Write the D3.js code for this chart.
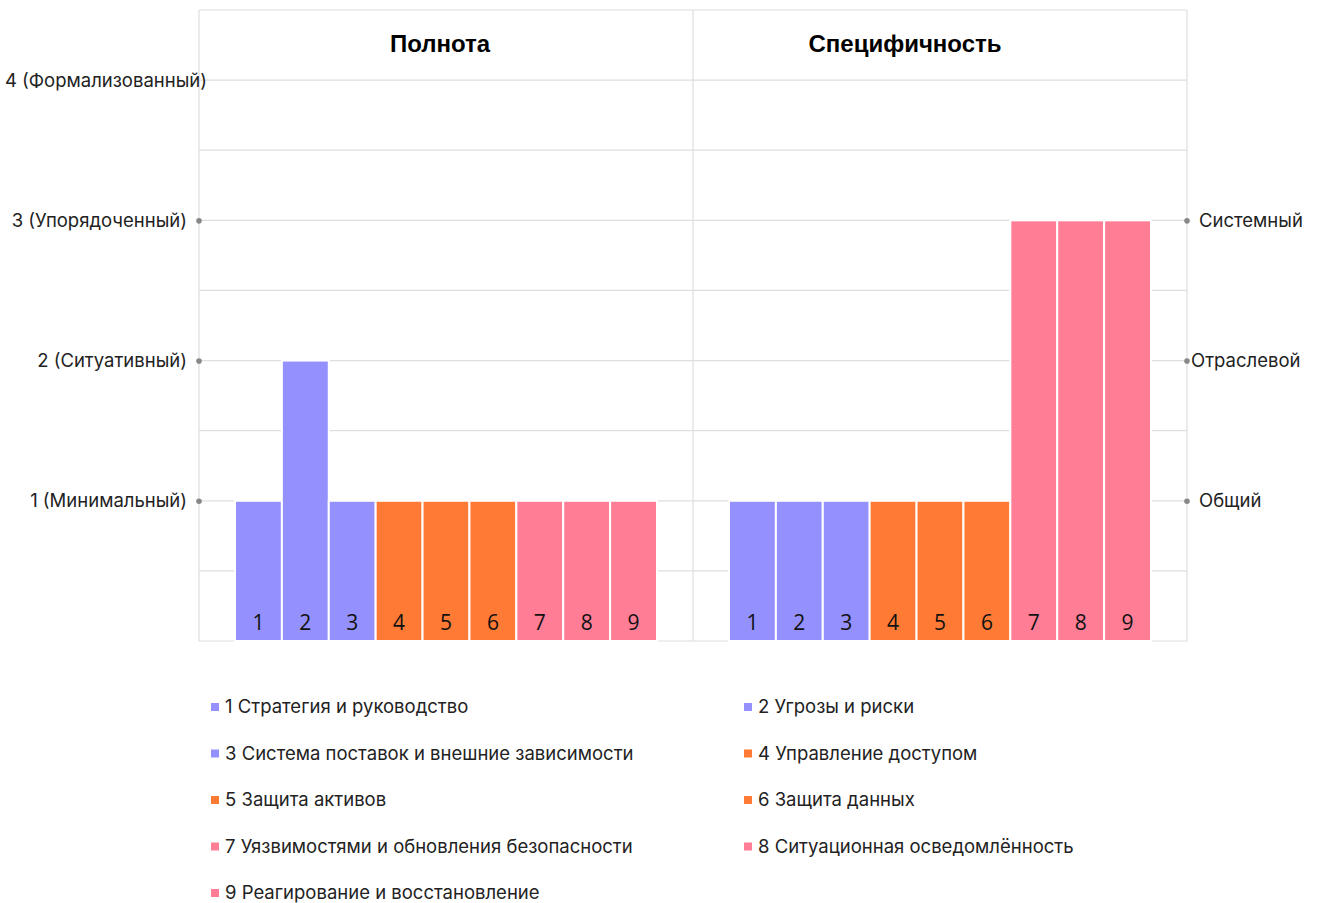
<!DOCTYPE html>
<html>
<head>
<meta charset="utf-8">
<script src="https://cdn.jsdelivr.net/npm/d3@7"></script>
<style>
  body { margin: 0; background: #fff; }
  svg { display: block; }
</style>
</head>
<body>
<svg width="1317" height="903"></svg>
<script>
// data
var panels = ["Полнота", "Специфичность"];
var ids = ["1", "2", "3", "4", "5", "6", "7", "8", "9"];
var polnota = [1, 2, 1, 1, 1, 1, 1, 1, 1];
var specific = [1, 1, 1, 1, 1, 1, 3, 3, 3];
var groups = ["a", "a", "a", "b", "b", "b", "c", "c", "c"];
var leftTicks = [1, 2, 3, 4];
var leftLabels = ["1 (Минимальный)", "2 (Ситуативный)", "3 (Упорядоченный)", "4 (Формализованный)"];
var rightTicks = [1, 2, 3];
var rightLabels = ["Общий", "Отраслевой", "Системный"];
var legendNames = [
    "1 Стратегия и руководство",
    "2 Угрозы и риски",
    "3 Система поставок и внешние зависимости",
    "4 Управление доступом",
    "5 Защита активов",
    "6 Защита данных",
    "7 Уязвимостями и обновления безопасности",
    "8 Ситуационная осведомлённость",
    "9 Реагирование и восстановление"
];

var color = d3.scaleOrdinal()
    .domain(["a", "b", "c"])
    .range(["#9491fe", "#fe7a35", "#ff7e96"]);

var svg = d3.select("svg");
var plotL = 199, plotR = 1187, plotT = 10, plotB = 641;
var font = "Inter, 'Noto Sans', sans-serif";

var y = d3.scaleLinear().domain([0, 4.5]).range([plotB, plotT]);
var px = d3.scaleBand().domain(panels).range([plotL, plotR]);

// grid
var grid = svg.append("g");
grid.selectAll("line.h")
    .data(d3.range(0, 4.51, 0.5))
    .enter()
    .append("line")
    .attr("x1", plotL).attr("x2", plotR)
    .attr("y1", d => y(d)).attr("y2", d => y(d))
    .attr("stroke", "#dedede").attr("stroke-width", 1.2);
grid.selectAll("line.v")
    .data([plotL, plotL + px.bandwidth(), plotR])
    .enter()
    .append("line")
    .attr("x1", d => d).attr("x2", d => d)
    .attr("y1", plotT).attr("y2", plotB)
    .attr("stroke", "#dedede").attr("stroke-width", 1.2);

// panel headers
var headShift = [-6, -35];
svg.selectAll("text.head")
    .data(panels)
    .enter()
    .append("text")
    .attr("x", (d, i) => px(d) + px.bandwidth() / 2 + headShift[i])
    .attr("y", 52)
    .attr("text-anchor", "middle")
    .attr("font-family", "'Liberation Sans', Arial, sans-serif")
    .attr("font-weight", "bold")
    .attr("font-size", 24)
    .attr("fill", "#000")
    .text(d => d);

// bars
[polnota, specific].forEach(function(vals, pi) {
    var x0 = px(panels[pi]);
    var x = d3.scaleBand().domain(ids)
        .range([x0 + 36, x0 + px.bandwidth() - 36]);
    var g = svg.append("g");
    g.selectAll("rect")
        .data(vals)
        .enter()
        .append("rect")
        .attr("x", (d, i) => x(ids[i]))
        .attr("y", d => y(d))
        .attr("width", x.bandwidth())
        .attr("height", d => y(0) - y(d))
        .attr("fill", (d, i) => color(groups[i]))
        .attr("stroke", "#fff")
        .attr("stroke-width", 2);
    g.selectAll("text")
        .data(ids)
        .enter()
        .append("text")
        .attr("x", d => x(d) + x.bandwidth() / 2)
        .attr("y", plotB - 11)
        .attr("text-anchor", "middle")
        .attr("font-family", "'Open Sans', sans-serif")
        .attr("font-size", 21)
        .attr("fill", "#111")
        .text(d => d);
});

// left axis
var la = svg.append("g").attr("transform", `translate(${plotL},0)`)
    .call(d3.axisLeft(y).tickValues(leftTicks)
        .tickSize(0).tickPadding(12)
        .tickFormat((d, i) => leftLabels[i]));
la.select(".domain").remove();
la.selectAll("text")
    .attr("font-family", font).attr("font-size", 18.5).attr("fill", "#222")
    .attr("dx", d => d == 4 ? 20 : 0);
la.selectAll(".tick").filter(d => d != 4)
    .append("circle").attr("r", 2.8).attr("fill", "#888");

// right axis
var ra = svg.append("g").attr("transform", `translate(${plotR},0)`)
    .call(d3.axisRight(y).tickValues(rightTicks)
        .tickSize(0).tickPadding(12)
        .tickFormat((d, i) => rightLabels[i]));
ra.select(".domain").remove();
ra.selectAll("text")
    .attr("font-family", font).attr("font-size", 18.5).attr("fill", "#222")
    .attr("dx", d => d == 2 ? -8 : 0);
ra.selectAll(".tick")
    .append("circle").attr("r", 2.8).attr("fill", "#888");

// legend
var lg = svg.append("g");
var item = lg.selectAll("g")
    .data(legendNames)
    .enter()
    .append("g")
    .attr("transform", (d, i) => `translate(${i % 2 ? 744 : 211},${707 + Math.floor(i / 2) * 46.5})`);
item.append("rect")
    .attr("x", 0).attr("y", -4)
    .attr("width", 8).attr("height", 8)
    .attr("fill", (d, i) => color(groups[i]));
item.append("text")
    .attr("x", 14).attr("y", 0)
    .attr("dy", "0.35em")
    .attr("font-family", font).attr("font-size", 18.5).attr("fill", "#222")
    .text(d => d);
</script>
</body>
</html>
